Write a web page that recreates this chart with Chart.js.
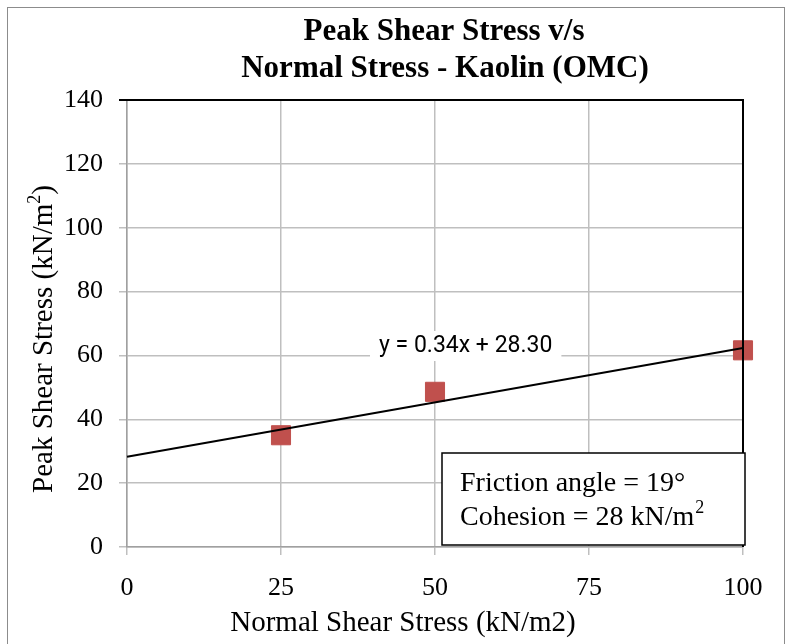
<!DOCTYPE html>
<html>
<head>
<meta charset="utf-8">
<script src="https://cdn.jsdelivr.net/npm/chart.js@4.4.1/dist/chart.umd.min.js"></script>
<style>
  html, body { margin: 0; padding: 0; background: #fff; }
  canvas { display: block; }
</style>
</head>
<body>
<canvas id="shearChart" width="791" height="644"></canvas>
<script>
// Measured points (normal stress vs peak shear stress)
const normalStress = [25, 50, 100];
const peakShear = [35, 48.6, 61.6];

// Linear trendline end points, y = 0.34x + 28.30
const trendX = [0, 100];
const trendY = [28.30, 62.30];
const trendLabel = 'y = 0.34x + 28.30';

const xTicks = [0, 25, 50, 75, 100];
const yTicks = [0, 20, 40, 60, 80, 100, 120, 140];

const titleLines = ['Peak Shear Stress v/s', 'Normal Stress - Kaolin (OMC)'];
const xTitle = 'Normal Shear Stress (kN/m2)';
const boxLines = ['Friction angle = 19°', 'Cohesion = 28 kN/m'];

const serif = '"Liberation Serif", "Times New Roman", serif';

const decorations = {
    id: 'decorations',
    afterDatasetsDraw(chart) {
        const { ctx, chartArea: a } = chart;
        ctx.save();

        // black frame on top and right of plot area
        ctx.strokeStyle = '#000';
        ctx.lineWidth = 2;
        ctx.beginPath();
        ctx.moveTo(a.left - 8, a.top);
        ctx.lineTo(a.right, a.top);
        ctx.lineTo(a.right, a.bottom);
        ctx.stroke();

        // trendline equation with white backing
        ctx.font = '23px Roboto, "Liberation Sans", sans-serif';
        ctx.textBaseline = 'middle';
        ctx.textAlign = 'left';
        const ex = 379, ey = 346;
        const w = ctx.measureText(trendLabel).width;
        ctx.fillStyle = '#fff';
        ctx.fillRect(ex - 9, ey - 15, w + 18, 30);
        ctx.fillStyle = '#000';
        ctx.fillText(trendLabel, ex, ey);

        // annotation box
        ctx.fillStyle = '#fff';
        ctx.fillRect(442, 453, 303, 92);
        ctx.strokeStyle = '#000';
        ctx.lineWidth = 1.5;
        ctx.strokeRect(442, 453, 303, 92);
        ctx.fillStyle = '#000';
        ctx.font = '28px ' + serif;
        ctx.textBaseline = 'alphabetic';
        ctx.fillText(boxLines[0], 460, 491);
        ctx.fillText(boxLines[1], 460, 525);
        const cw = ctx.measureText(boxLines[1]).width;
        ctx.font = '18px ' + serif;
        ctx.fillText('2', 460 + cw + 1, 513);

        // chart title
        ctx.font = 'bold 31px ' + serif;
        ctx.textAlign = 'center';
        ctx.textBaseline = 'middle';
        ctx.fillText(titleLines[0], 444, 32);
        ctx.fillText(titleLines[1], 445, 69);

        // x axis title
        ctx.font = '29px ' + serif;
        ctx.fillText(xTitle, 403, 623);

        // y axis title with superscript
        ctx.translate(44, 339);
        ctx.rotate(-Math.PI / 2);
        const main = 'Peak Shear Stress (kN/m';
        ctx.font = '29px ' + serif;
        const mw = ctx.measureText(main).width;
        ctx.font = '18px ' + serif;
        const sw = ctx.measureText('2').width;
        ctx.font = '29px ' + serif;
        const pw = ctx.measureText(')').width;
        const sx = -(mw + sw + pw) / 2;
        ctx.textAlign = 'left';
        ctx.textBaseline = 'middle';
        ctx.fillText(main, sx, 0);
        ctx.font = '18px ' + serif;
        ctx.fillText('2', sx + mw, -9);
        ctx.font = '29px ' + serif;
        ctx.fillText(')', sx + mw + sw, 0);
        ctx.restore();

        // outer chart border
        ctx.save();
        ctx.strokeStyle = '#8c8c8c';
        ctx.lineWidth = 1;
        ctx.strokeRect(7.5, 7.5, 777, 660);
        ctx.restore();
    }
};

new Chart(document.getElementById('shearChart'), {
    type: 'scatter',
    data: {
        datasets: [{
            label: 'Trend',
            data: trendX.map((x, i) => ({ x: x, y: trendY[i] })),
            showLine: true,
            borderColor: '#000',
            borderWidth: 2,
            pointRadius: 0,
            clip: false,
            order: 0
        }, {
            label: 'Peak shear',
            data: normalStress.map((x, i) => ({ x: x, y: peakShear[i] })),
            pointStyle: 'rect',
            pointRadius: 13.5,
            backgroundColor: '#c0504d',
            borderColor: '#c0504d',
            borderWidth: 1,
            clip: false,
            order: 1
        }]
    },
    options: {
        responsive: false,
        animation: false,
        layout: { padding: { top: 100, right: 48, left: 0, bottom: 0 } },
        plugins: {
            legend: { display: false },
            tooltip: { enabled: false }
        },
        scales: {
            x: {
                type: 'linear',
                min: 0,
                max: 100,
                afterBuildTicks: s => { s.ticks = xTicks.map(v => ({ value: v })); },
                afterFit: s => { s.height = 97; },
                ticks: { font: { family: serif, size: 26 }, color: '#000', padding: 18 },
                grid: { color: '#bfbfbf', lineWidth: 1.5, tickLength: 8 },
                border: { color: '#a0a0a0', width: 1.5 }
            },
            y: {
                min: 0,
                max: 140,
                afterBuildTicks: s => { s.ticks = yTicks.map(v => ({ value: v })); },
                afterFit: s => { s.width = 127; },
                ticks: { font: { family: serif, size: 26 }, color: '#000', padding: 16 },
                grid: { color: '#bfbfbf', lineWidth: 1.5, tickLength: 8 },
                border: { color: '#a0a0a0', width: 1.5 }
            }
        }
    },
    plugins: [decorations]
});
</script>
</body>
</html>
